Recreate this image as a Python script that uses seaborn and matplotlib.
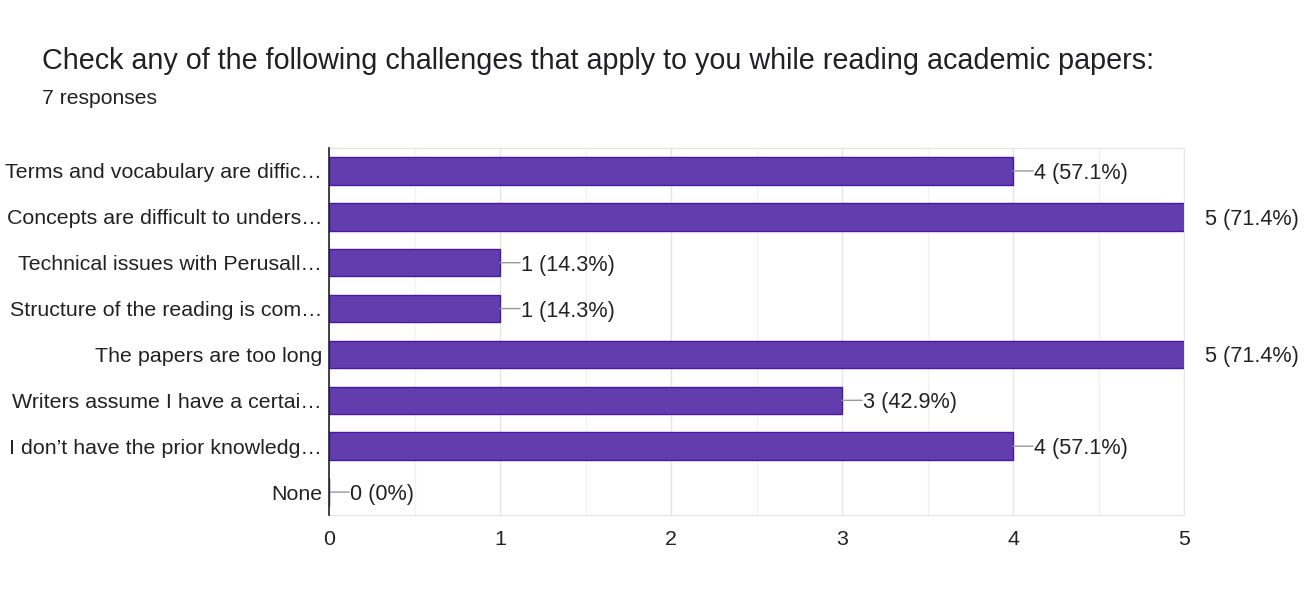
import matplotlib
matplotlib.use("Agg")
import matplotlib.pyplot as plt
import seaborn as sns
import pandas as pd
from matplotlib.ticker import MultipleLocator

# data
challenges = [
    "Terms and vocabulary are diffic…",
    "Concepts are difficult to unders…",
    "Technical issues with Perusall…",
    "Structure of the reading is com…",
    "The papers are too long",
    "Writers assume I have a certai…",
    "I don’t have the prior knowledg…",
    "None",
]
counts = [4, 5, 1, 1, 5, 3, 4, 0]
percents = ["57.1%", "71.4%", "14.3%", "14.3%", "71.4%", "42.9%", "57.1%", "0%"]
n_responses = 7

df = pd.DataFrame({"challenge": challenges, "count": counts})

sns.set_style("white")
plt.rcParams["font.family"] = ["Liberation Sans", "DejaVu Sans"]

fig = plt.figure(figsize=(13.16, 6.1), dpi=100)
ax = fig.add_axes([0.25, 0.1557, 0.6497, 0.6017])

sns.barplot(data=df, x="count", y="challenge", orient="h", color="#613dad",
            edgecolor="#4b16b0", linewidth=1, width=0.6, saturation=1, ax=ax)

ax.set_xlim(0, 5)
ax.set_ylim(7.5, -0.5)
ax.xaxis.set_major_locator(MultipleLocator(1))
ax.xaxis.set_minor_locator(MultipleLocator(0.5))
ax.grid(True, which="major", axis="x", color="#e4e4e4", lw=1)
ax.grid(True, which="minor", axis="x", color="#f1f1f1", lw=1)
ax.set_axisbelow(True)

for side in ["top", "right", "bottom"]:
    ax.spines[side].set_color("#e4e4e4")
ax.spines["left"].set_color("#222222")
ax.spines["left"].set_linewidth(1.2)
ax.spines["left"].set_zorder(5)

ax.set_xlabel("")
ax.set_ylabel("")
ax.tick_params(axis="both", length=0, labelsize=15.4, colors="#222222")
ax.tick_params(axis="x", pad=11)
ax.tick_params(axis="y", pad=5)

# value labels with a short grey leader line (none when the bar hits the frame)
top = max(counts)
for i, (c, p) in enumerate(zip(counts, percents)):
    if c < top:
        ax.annotate("", xy=(c, i), xytext=(14.5, 0), textcoords="offset points",
                    arrowprops=dict(arrowstyle="-", color="#999999", lw=1, shrinkA=0, shrinkB=0),
                    annotation_clip=False)
    ax.annotate(f"{c} ({p})", xy=(c, i), xytext=(15, 0), textcoords="offset points",
                va="center_baseline", ha="left", fontsize=15.6, color="#222222",
                annotation_clip=False)

fig.text(0.032, 0.90, "Check any of the following challenges that apply to you while reading academic papers:",
         fontsize=20.7, color="#202124", va="center", ha="left")
fig.text(0.032, 0.838, f"{n_responses} responses", fontsize=15.2, color="#202124", va="center", ha="left")

fig.savefig("out.png", dpi=100, facecolor="white")
